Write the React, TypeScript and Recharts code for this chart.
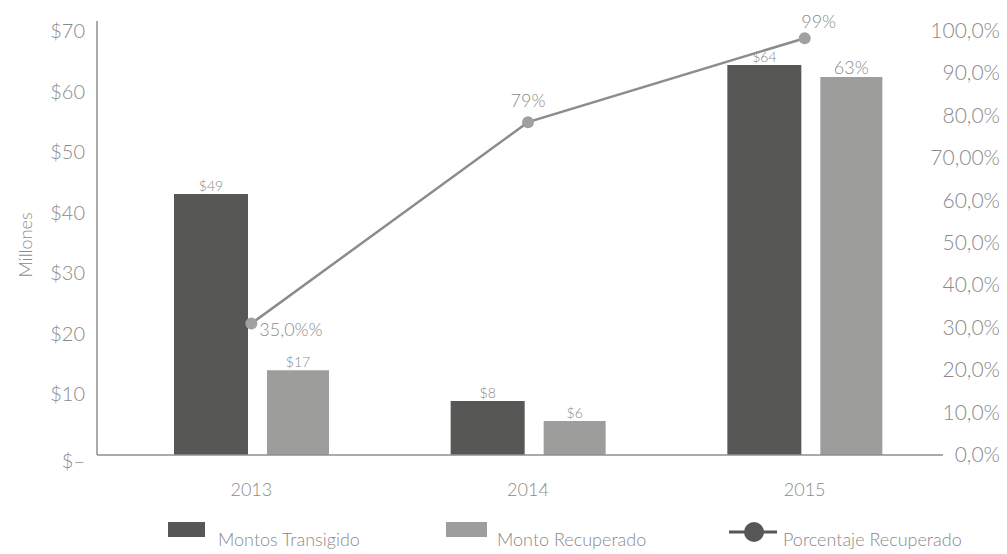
import { Bar, ComposedChart, LabelList, Line, XAxis, YAxis } from "recharts";

const years = ["2013", "2014", "2015"];
const montosTransigido = [43.1, 8.9, 64.4];
const montoRecuperado = [14.0, 5.6, 62.4];
const porcentajeRecuperado = [31, 78.5, 98.3];
const transigidoLabels = ["$49", "$8", "$64"];
const recuperadoLabels = ["$17", "$6", "63%"];
const porcentajeLabels = ["35,0%%", "79%", "99%"];
const leftTicks = [0, 10, 20, 30, 40, 50, 60, 70];
const rightTicks = [0, 10, 20, 30, 40, 50, 60, 70, 80, 90, 100];
const rightTickLabels = ["0,0%", "10,0%", "20,0%", "30,0%", "40,0%", "50,0%", "60,0%", "70,00%", "80,0%", "90,0%", "100,0%"];

const data = years.map((year, i) => ({
  year,
  transigido: montosTransigido[i],
  recuperado: montoRecuperado[i],
  porcentaje: porcentajeRecuperado[i],
}));

const font = "Lato, 'Open Sans', sans-serif";
const textColor = "#8a8a8a";
const darkBar = "#575756";
const lightBar = "#9d9d9c";
const lineColor = "#8c8c8c";

const barLabel = (labels: string[]) => (props: any) => {
  const { x, y, width, index } = props;
  const text = labels[index];
  const big = text.endsWith("%");
  return (
    <text
      x={x + width / 2}
      y={y - 3}
      textAnchor="middle"
      fill={textColor}
      fontSize={big ? 18 : 14}
      fontFamily={font}
      fontWeight={300}
    >
      {text}
    </text>
  );
};

const lineLabel = (props: any) => {
  const { x, y, index } = props;
  const place =
    index === 0
      ? { dx: 8, dy: 12, anchor: "start" }
      : index === 1
      ? { dx: 0, dy: -15, anchor: "middle" }
      : { dx: 14, dy: -10, anchor: "middle" };
  return (
    <text
      x={x + place.dx}
      y={y + place.dy}
      textAnchor={place.anchor as any}
      fill={textColor}
      fontSize={18}
      fontFamily={font}
      fontWeight={300}
    >
      {porcentajeLabels[index]}
    </text>
  );
};

const LeftTick = (props: any) => {
  const { x, y, payload } = props;
  const v = payload.value;
  return (
    <text x={x} y={y + (v === 0 ? 13 : 7)} textAnchor="end" fill={textColor} fontSize={20} fontFamily={font} fontWeight={300}>
      {v === 0 ? "$–" : `$${v}`}
    </text>
  );
};

const RightTick = (props: any) => {
  const { x, y, payload } = props;
  const idx = rightTicks.indexOf(payload.value);
  return (
    <text x={x + 57} y={y + 7} textAnchor="end" fill={textColor} fontSize={21} fontFamily={font} fontWeight={300}>
      {rightTickLabels[idx]}
    </text>
  );
};

const legendText = { position: "absolute" as const, top: 528, fontSize: 18, color: textColor, fontFamily: font, fontWeight: 300, lineHeight: "22px", whiteSpace: "nowrap" as const };

export default function App() {
  return (
    <div style={{ position: "absolute", left: 0, top: 0, width: 1007, height: 554, background: "#fff" }}>
      <ComposedChart width={1007} height={554} data={data} margin={{ top: 21, right: 0, bottom: 59, left: 0 }} barGap={19}>
        <XAxis
          dataKey="year"
          height={40}
          padding={{ left: 16, right: 0 }}
          tickLine={false}
          tickSize={0}
          tickMargin={28}
          axisLine={{ stroke: "#8f8f8f", strokeWidth: 1.5 }}
          tick={{ fill: textColor, fontSize: 18, fontFamily: font, fontWeight: 300 }}
        />
        <YAxis
          yAxisId="left"
          width={97}
          domain={[0, 71.65]}
          ticks={leftTicks}
          tickLine={false}
          tickSize={0}
          tickMargin={12}
          axisLine={{ stroke: "#8f8f8f", strokeWidth: 1.5 }}
          tick={<LeftTick />}
          label={{
            content: () => (
              <text
                x={32}
                y={245}
                transform="rotate(-90 32 245)"
                textAnchor="middle"
                fill={textColor}
                fontSize={18}
                fontFamily={font}
                fontWeight={300}
              >
                Millones
              </text>
            ),
          }}
        />
        <YAxis
          yAxisId="right"
          orientation="right"
          width={64}
          domain={[0, 102.36]}
          ticks={rightTicks}
          tickLine={false}
          tickSize={0}
          tickMargin={0}
          axisLine={false}
          tick={<RightTick />}
        />
        <Bar yAxisId="left" dataKey="transigido" fill={darkBar} barSize={74} isAnimationActive={false}>
          <LabelList dataKey="transigido" content={barLabel(transigidoLabels)} />
        </Bar>
        <Bar yAxisId="left" dataKey="recuperado" fill={lightBar} barSize={62} isAnimationActive={false}>
          <LabelList dataKey="recuperado" content={barLabel(recuperadoLabels)} />
        </Bar>
        <Line
          yAxisId="right"
          type="linear"
          dataKey="porcentaje"
          stroke={lineColor}
          strokeWidth={2.5}
          dot={{ r: 6, fill: "#a0a0a0", stroke: "none" }}
          isAnimationActive={false}
        >
          <LabelList dataKey="porcentaje" content={lineLabel} />
        </Line>
      </ComposedChart>

      <div style={{ position: "absolute", left: 168, top: 522, width: 37, height: 15, background: darkBar }} />
      <div style={{ ...legendText, left: 218 }}>Montos Transigido</div>
      <div style={{ position: "absolute", left: 446, top: 522, width: 41, height: 15, background: lightBar }} />
      <div style={{ ...legendText, left: 497 }}>Monto Recuperado</div>
      <svg style={{ position: "absolute", left: 727, top: 520 }} width={52} height={24}>
        <line x1={2} y1={12} x2={50} y2={12} stroke="#575757" strokeWidth={3} />
        <circle cx={27} cy={12} r={10} fill="#575757" />
      </svg>
      <div style={{ ...legendText, left: 783 }}>Porcentaje Recuperado</div>
    </div>
  );
}
